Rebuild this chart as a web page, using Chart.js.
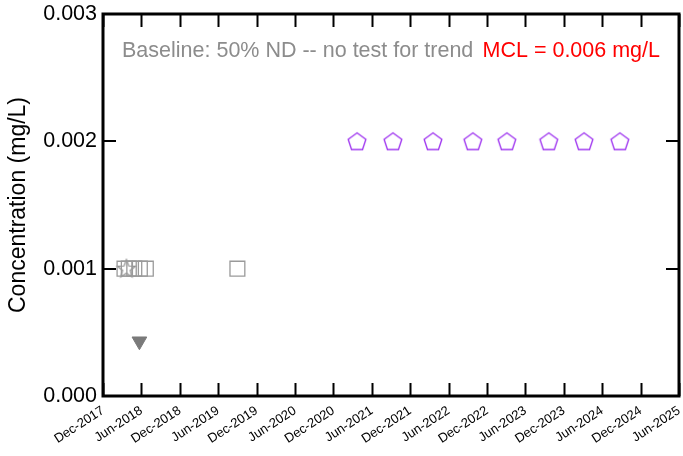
<!DOCTYPE html>
<html>
<head>
<meta charset="utf-8">
<script src="https://cdn.jsdelivr.net/npm/chart.js@4.4.1/dist/chart.umd.min.js"></script>
<style>
  html, body { margin: 0; padding: 0; background: #fff; }
  #wrap { width: 683px; height: 456px; }
</style>
</head>
<body>
<div id="wrap"><canvas id="c" width="683" height="456"></canvas></div>
<script>
// Sample dates and concentrations (mg/L)
const ndDates = ['2018-03-12', '2018-04-02', '2018-04-28', '2018-05-24', '2018-06-22', '2019-09-01'];
const ndValues = [0.001, 0.001, 0.001, 0.001, 0.001, 0.001];

const starDates = ['2018-03-21'];
const starValues = [0.001];

const detectDates = ['2018-05-22'];
const detectValues = [0.00043];

const recentDates = ['2021-03-22', '2021-09-10', '2022-03-18', '2022-09-25',
                     '2023-03-04', '2023-09-21', '2024-03-06', '2024-08-24'];
const recentValues = [0.002, 0.002, 0.002, 0.002, 0.002, 0.002, 0.002, 0.002];

// Tick labels every six months
const xTickLabels = ['Dec-2017', 'Jun-2018', 'Dec-2018', 'Jun-2019', 'Dec-2019', 'Jun-2020',
                     'Dec-2020', 'Jun-2021', 'Dec-2021', 'Jun-2022', 'Dec-2022', 'Jun-2023',
                     'Dec-2023', 'Jun-2024', 'Dec-2024', 'Jun-2025'];
const yTickValues = [0, 0.001, 0.002, 0.003];

const baselineNote = 'Baseline: 50% ND -- no test for trend';
const mclNote = 'MCL = 0.006 mg/L';

// Months elapsed since 1 Dec 2017
function monthIndex(s) {
  const [y, m, d] = s.split('-').map(Number);
  return (y - 2017) * 12 + (m - 12) + (d - 1) / 30.4;
}
function toPoints(dates, values) {
  return dates.map((d, i) => ({ x: monthIndex(d), y: values[i] }));
}

// Marker images
function pentagonMarker(color) {
  const c = document.createElement('canvas');
  c.width = 22; c.height = 22;
  const g = c.getContext('2d');
  g.strokeStyle = color; g.lineWidth = 1.4;
  g.beginPath();
  for (let k = 0; k < 5; k++) {
    const a = -Math.PI / 2 + k * 2 * Math.PI / 5;
    const px = 11 + 9.3 * Math.cos(a), py = 11.8 + 9.3 * Math.sin(a);
    k ? g.lineTo(px, py) : g.moveTo(px, py);
  }
  g.closePath(); g.stroke();
  return c;
}
function starMarker(color) {
  const c = document.createElement('canvas');
  c.width = 22; c.height = 22;
  const g = c.getContext('2d');
  g.strokeStyle = color; g.lineWidth = 1.2;
  g.beginPath();
  for (let k = 0; k < 10; k++) {
    const a = -Math.PI / 2 + k * Math.PI / 5;
    const r = k % 2 ? 4 : 9.5;
    const px = 11 + r * Math.cos(a), py = 11.5 + r * Math.sin(a);
    k ? g.lineTo(px, py) : g.moveTo(px, py);
  }
  g.closePath(); g.stroke();
  return c;
}

const FONT = "'Liberation Sans', Arial, sans-serif";

// Frame, inward ticks on all four sides, and notes
const framePlugin = {
  id: 'frame',
  afterDraw(chart) {
    const { ctx, chartArea: a, scales } = chart;
    const xs = scales.x, ys = scales.y;
    ctx.save();
    ctx.strokeStyle = '#000';
    ctx.lineWidth = 2;
    const tl = 13;
    ctx.beginPath();
    xs.ticks.forEach((t, i) => {
      const px = Math.round(xs.getPixelForTick(i)) + 0.5;
      ctx.moveTo(px, a.bottom); ctx.lineTo(px, a.bottom - tl);
      ctx.moveTo(px, a.top); ctx.lineTo(px, a.top + tl);
    });
    ys.ticks.forEach((t, i) => {
      const py = Math.round(ys.getPixelForTick(i));
      ctx.moveTo(a.left, py); ctx.lineTo(a.left + tl, py);
      ctx.moveTo(a.right, py); ctx.lineTo(a.right - tl, py);
    });
    ctx.stroke();
    ctx.lineWidth = 3;
    ctx.strokeRect(a.left, a.top, a.right - a.left, a.bottom - a.top);

    ctx.font = '21.5px ' + FONT;
    ctx.textBaseline = 'alphabetic';
    ctx.textAlign = 'left';
    ctx.fillStyle = '#8c8c8c';
    ctx.fillText(baselineNote, 122, 57);
    ctx.fillStyle = '#ff0000';
    ctx.textAlign = 'right';
    ctx.fillText(mclNote, 660, 57);
    ctx.restore();
  }
};

const grayStroke = '#9a9a9a';

new Chart(document.getElementById('c'), {
  type: 'scatter',
  data: {
    datasets: [
      {
        data: toPoints(ndDates, ndValues),
        pointStyle: 'rect', pointRadius: 10.5, pointHoverRadius: 10.5,
        borderColor: grayStroke, borderWidth: 1.3, backgroundColor: 'rgba(0,0,0,0)'
      },
      {
        data: toPoints(starDates, starValues),
        pointStyle: starMarker('#8a8a8a'), pointRadius: 10
      },
      {
        data: toPoints(detectDates, detectValues),
        pointStyle: 'triangle', rotation: 180, pointRadius: 8.5, pointHoverRadius: 8.5,
        borderColor: '#7a7a7a', borderWidth: 1, backgroundColor: '#7a7a7a'
      },
      {
        data: toPoints(recentDates, recentValues),
        pointStyle: pentagonMarker('#a23cf0'), pointRadius: 10
      }
    ]
  },
  options: {
    responsive: false,
    animation: false,
    events: [],
    layout: { autoPadding: false, padding: { left: 0, right: 4, top: 14, bottom: 0 } },
    plugins: { legend: { display: false }, tooltip: { enabled: false } },
    scales: {
      x: {
        type: 'linear', min: 0, max: 90,
        afterBuildTicks(scale) {
          scale.ticks = xTickLabels.map((_, i) => ({ value: i * 6 }));
        },
        afterFit(scale) {
          scale.height = 60;
          scale.paddingLeft = 0; scale.paddingRight = 0;
        },
        grid: { display: false, drawTicks: false },
        border: { display: false },
        ticks: {
          autoSkip: false, minRotation: 33, maxRotation: 33, padding: 7,
          color: '#000', font: { family: FONT, size: 13 },
          callback: (v) => xTickLabels[Math.round(v / 6)]
        }
      },
      y: {
        type: 'linear', min: 0, max: 0.003,
        afterBuildTicks(scale) {
          scale.ticks = yTickValues.map(v => ({ value: v }));
        },
        afterFit(scale) {
          scale.width = 103;
          scale.paddingTop = 0; scale.paddingBottom = 0;
        },
        grid: { display: false, drawTicks: false },
        border: { display: false },
        title: {
          display: true, text: 'Concentration (mg/L)', color: '#000',
          font: { family: FONT, size: 23 }, padding: { top: 5, bottom: 0 }
        },
        ticks: {
          padding: 6, color: '#000', font: { family: FONT, size: 21.5 },
          callback: (v) => v.toFixed(3)
        }
      }
    }
  },
  plugins: [framePlugin]
});
</script>
</body>
</html>
